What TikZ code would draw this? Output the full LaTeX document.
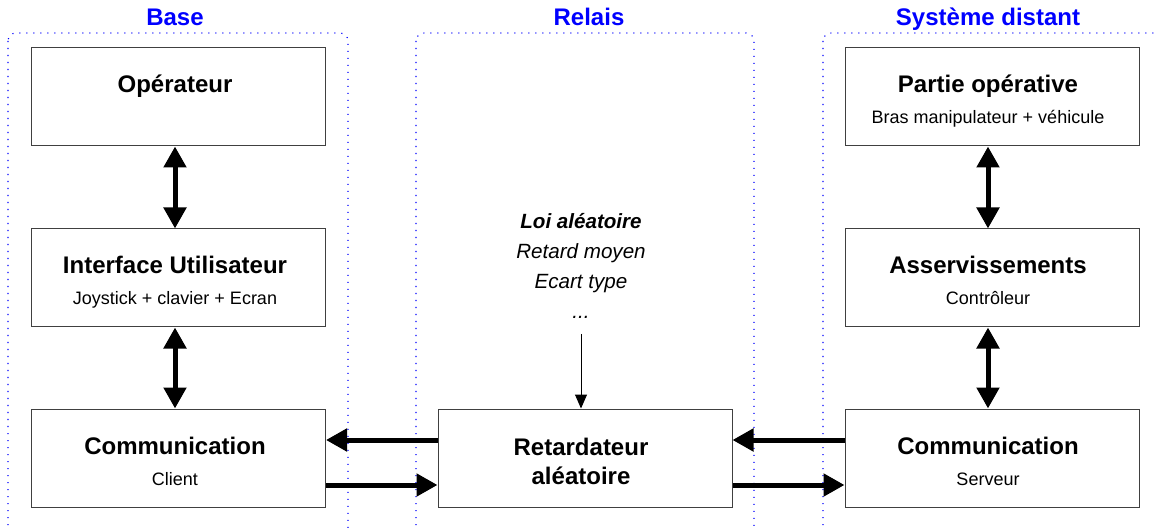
\documentclass[tikz,border=0pt]{standalone}
\usepackage{fontspec}
\setmainfont{Liberation Sans}
\usetikzlibrary{arrows.meta,positioning,calc}

\tikzset{
  boite/.style={draw=black!75, line width=1pt, minimum width=294pt, minimum height=98pt, inner sep=0pt},
  titre/.style={anchor=base, font=\fontsize{24}{28}\selectfont\bfseries},
  sous/.style={anchor=base, font=\fontsize{18}{22}\selectfont},
  param/.style={anchor=base, font=\fontsize{20.6}{24}\selectfont\itshape},
  groupe/.style={draw=blue, line width=1.1pt, dash pattern=on 1.1pt off 5.9pt, rounded corners=8pt},
  nomgroupe/.style={anchor=base, text=blue, font=\fontsize{24}{28}\selectfont\bfseries},
  grosse/.style={line width=5pt, -{Triangle[length=21pt,width=22pt]}},
  bidir/.style={line width=5pt, {Triangle[length=21pt,width=22pt]}-{Triangle[length=21pt,width=22pt]}},
  fine/.style={line width=1pt, -{Triangle[length=14pt,width=12pt]}}
}

\begin{document}
\begin{tikzpicture}[x=1pt,y=-1pt]
\useasboundingbox (0,0) rectangle (1154,529);
\clip (0,0) rectangle (1154,529);

% Groupes
\draw[groupe] (8,33) rectangle (348,545);
\draw[groupe] (416,33) rectangle (754,545);
\draw[groupe] (823,33) rectangle (1175,545);
\node[nomgroupe] (gbase) at (175,26) {Base};
\node[nomgroupe] (grelais) at (589,26) {Relais};
\node[nomgroupe] (gdist) at (988,26) {Système distant};

% Base
\node[boite] (op) at (178.5,97) {};
\node[titre] (op-t) at (175,93) {Opérateur};
\node[boite] (iu) at (178.5,278) {};
\node[titre] (iu-t) at (175,274) {Interface Utilisateur};
\node[sous] (iu-s) at (175,305) {Joystick + clavier + Ecran};
\node[boite] (cc) at (178.5,458) {};
\node[titre] (cc-t) at (175,454) {Communication};
\node[sous] (cc-s) at (175,485) {Client};

% Relais
\node[boite] (ret) at (585,458) {};
\node[titre] (ret-t) at (581,455) {Retardateur};
\node[titre] (ret-s) at (581,484) {aléatoire};
\node[param, font=\fontsize{20.6}{24}\selectfont\bfseries\itshape] (loi) at (581,229) {Loi aléatoire};
\node[param] (moy) at (581,259) {Retard moyen};
\node[param] (ect) at (581,289) {Ecart type};
\node[param] (pts) at (581,319) {...};
\coordinate (src) at (581,334);

% Systeme distant
\node[boite] (po) at (992,97) {};
\node[titre] (po-t) at (988,93) {Partie opérative};
\node[sous] (po-s) at (988,124) {Bras manipulateur + véhicule};
\node[boite] (as) at (992,278) {};
\node[titre] (as-t) at (988,274) {Asservissements};
\node[sous] (as-s) at (988,305) {Contrôleur};
\node[boite] (cs) at (992,458) {};
\node[titre] (cs-t) at (988,454) {Communication};
\node[sous] (cs-s) at (988,485) {Serveur};

% Fleches
\draw[bidir] ([xshift=-3.5pt]op.south) -- ([xshift=-3.5pt]iu.north);
\draw[bidir] ([xshift=-3.5pt]iu.south) -- ([xshift=-3.5pt]cc.north);
\draw[bidir] ([xshift=-4pt]po.south) -- ([xshift=-4pt]as.north);
\draw[bidir] ([xshift=-4pt]as.south) -- ([xshift=-4pt]cs.north);
\draw[fine] (src) -- (src |- ret.north);
\draw[grosse] ([yshift=18pt]ret.west) -- ([yshift=18pt]cc.east);
\draw[grosse] ([yshift=-27pt]cc.east) -- ([yshift=-27pt]ret.west);
\draw[grosse] ([yshift=18pt]cs.west) -- ([yshift=18pt]ret.east);
\draw[grosse] ([yshift=-27pt]ret.east) -- ([yshift=-27pt]cs.west);
\end{tikzpicture}
\end{document}
